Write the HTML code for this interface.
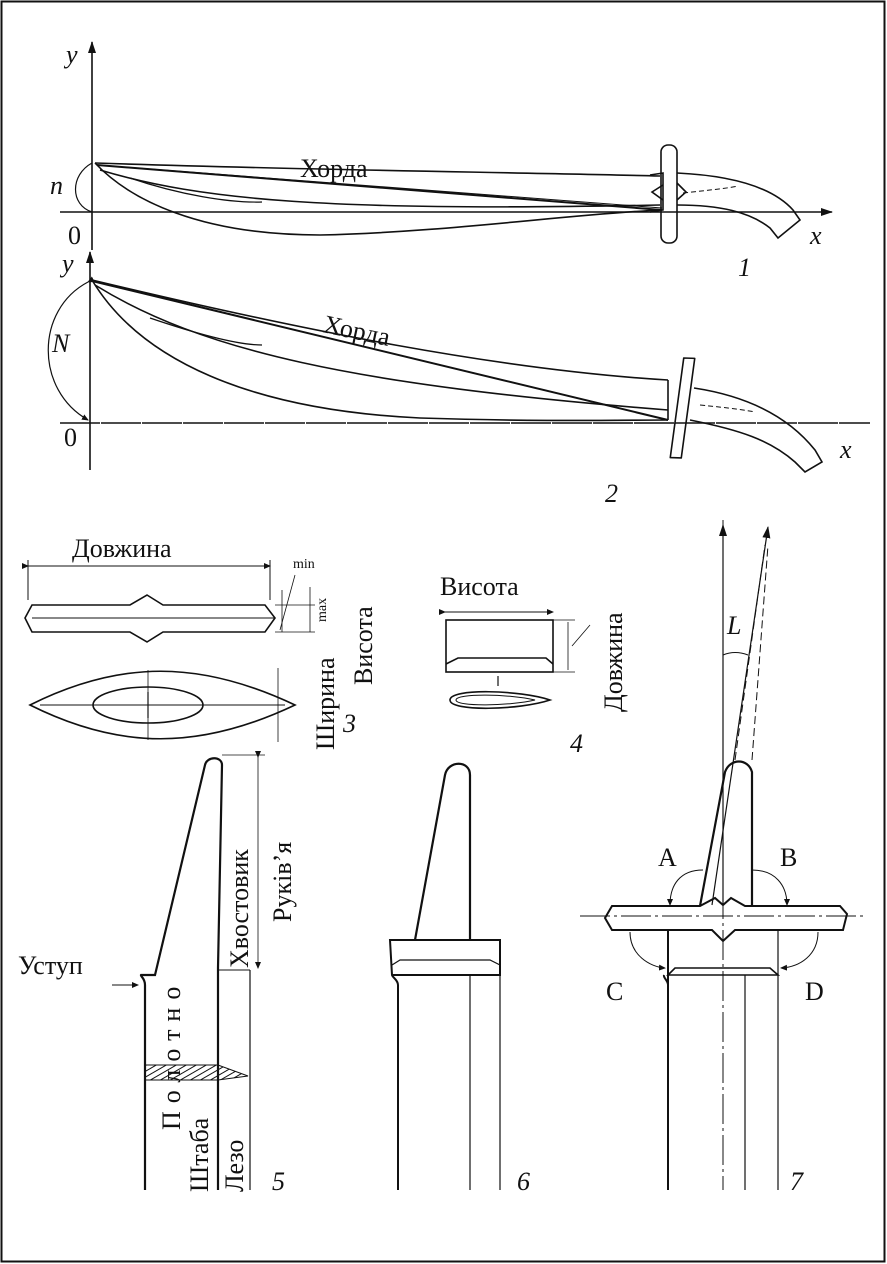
<!DOCTYPE html>
<html><head><meta charset="utf-8"><style>
html,body{margin:0;padding:0;background:#fff}
svg{display:block}
text{font-family:"Liberation Serif",serif;fill:#111}
</style></head><body>
<svg width="887" height="1264" viewBox="0 0 887 1264" xmlns="http://www.w3.org/2000/svg">
<defs>
<marker id="ar" markerWidth="12" markerHeight="8" refX="11" refY="4" orient="auto" markerUnits="userSpaceOnUse"><path d="M0,0 L12,4 L0,8 z" fill="#111"/></marker>
<marker id="sa" markerWidth="7" markerHeight="6" refX="6" refY="3" orient="auto" markerUnits="userSpaceOnUse"><path d="M0,0 L7,3 L0,6 z" fill="#111"/></marker>
<pattern id="h" width="5" height="5" patternUnits="userSpaceOnUse" patternTransform="rotate(60)"><line x1="0" y1="0" x2="0" y2="5" stroke="#111" stroke-width="2"/></pattern>
</defs>
<rect x="1.5" y="1.5" width="883" height="1260" fill="none" stroke="#111" stroke-width="2"/>
<g stroke="#111" fill="none" stroke-width="1.6">
<!-- Part 1 -->
<line x1="92" y1="250" x2="92" y2="42" marker-end="url(#ar)"/>
<line x1="60" y1="212" x2="832" y2="212" marker-end="url(#ar)"/>
<path d="M95,163 C300,170 500,172 660,176"/>
<path d="M95,163 C130,200 200,235 320,235 C450,232 560,215 660,210"/>
<path d="M100,170 C200,200 330,212 660,205"/>
<path d="M130,178 C180,195 230,203 262,202" stroke-width="1.2"/>
<line x1="97" y1="165" x2="662" y2="210" stroke-width="2"/>
<line x1="97" y1="165" x2="662" y2="208" stroke-width="1"/>
<path d="M92,163 C70,175 70,205 92,212" stroke-width="1.2"/>
<path d="M650,175 L663,173 L663,210 L650,212" />
<rect x="661" y="145" width="16" height="98" rx="7"/>
<path d="M663,185 L652,192 L663,200" /><path d="M677,183 L686,192 L677,200"/>
<path d="M677,173 C740,176 775,190 793,210 L800,220 L778,238 L770,228 C750,212 720,205 677,205"/>
<path d="M683,193 C710,190 730,188 738,186" stroke-dasharray="5,3" stroke-width="1"/>
<!-- Part 2 -->
<line x1="90" y1="470" x2="90" y2="252" marker-end="url(#ar)"/>
<line x1="60" y1="423" x2="870" y2="423" stroke-dasharray="40,1" />
<path d="M92,280 C300,330 500,370 668,380"/>
<path d="M92,280 C140,360 250,410 420,418 C550,422 620,420 668,420"/>
<path d="M95,285 C200,350 350,385 668,410"/>
<path d="M150,318 C200,335 240,345 262,345" stroke-width="1.2"/>
<line x1="92" y1="281" x2="668" y2="420" stroke-width="2"/>
<path d="M88,282 C35,310 35,390 88,420" stroke-width="1.2" marker-start="url(#sa)" marker-end="url(#sa)"/>
<path d="M668,380 L668,420" />
<path d="M682,358 L693,358 L683,458 L672,458 Z" stroke-linejoin="round" transform="rotate(2 683 408)"/>
<path d="M694,388 C760,398 795,425 815,450 L822,462 L805,472 L795,462 C770,440 740,430 690,420"/>
<path d="M700,405 C730,408 745,410 755,412" stroke-dasharray="5,3" stroke-width="1"/>
<!-- Part 3 -->
<line x1="28" y1="566" x2="270" y2="566" stroke-width="1" marker-start="url(#sa)" marker-end="url(#sa)"/>
<line x1="28" y1="560" x2="28" y2="600" stroke-width="1"/>
<line x1="270" y1="560" x2="270" y2="600" stroke-width="1"/>
<path d="M32,605 L130,605 L147,595 L163,605 L265,605 L275,618 L265,632 L163,632 L147,642 L130,632 L32,632 L25,618 Z"/>
<line x1="32" y1="618" x2="275" y2="618" stroke-width="1"/>
<line x1="275" y1="605" x2="315" y2="605" stroke-width="0.8"/><line x1="275" y1="632" x2="315" y2="632" stroke-width="0.8"/>
<line x1="310" y1="587" x2="310" y2="632" stroke-width="0.8"/>
<line x1="282" y1="590" x2="282" y2="632" stroke-width="0.8"/>
<line x1="280" y1="630" x2="295" y2="575" stroke-width="0.8"/>
<path d="M30,705 C120,660 200,660 295,705 C200,750 120,750 30,705 Z"/>
<ellipse cx="148" cy="705" rx="55" ry="18"/>
<line x1="40" y1="705" x2="285" y2="705" stroke-width="1"/>
<line x1="148" y1="692" x2="148" y2="718" stroke-width="1.2"/>
<line x1="148" y1="670" x2="148" y2="740" stroke-width="0.8"/>
<line x1="278" y1="668" x2="278" y2="742" stroke-width="0.8"/>
<!-- Part 4 -->
<line x1="445" y1="612" x2="553" y2="612" stroke-width="1" marker-start="url(#sa)" marker-end="url(#sa)"/>
<rect x="446" y="620" width="107" height="52"/>
<path d="M446,664 L458,658 L546,658 L553,664"/>
<line x1="553" y1="620" x2="575" y2="620" stroke-width="0.8"/><line x1="553" y1="672" x2="575" y2="672" stroke-width="0.8"/>
<line x1="568" y1="622" x2="568" y2="670" stroke-width="0.8"/>
<line x1="572" y1="646" x2="590" y2="625" stroke-width="0.8"/>
<path d="M450,700 C450,688 520,690 550,700 C520,710 450,712 450,700 Z"/>
<path d="M456,700 C456,693 510,694 535,700 C510,706 456,707 456,700 Z" stroke-width="1"/>
<line x1="498" y1="676" x2="498" y2="686" stroke-width="1.2"/>
<!-- Part 5 -->
<path d="M145,1190 L145,985 C145,978 140,976 141,975 L155,975 L205,765 C207,756 222,756 222,765 L218,968 L218,1190" stroke-width="2.2"/>
<line x1="218" y1="970" x2="250" y2="970" stroke-width="1"/>
<line x1="250" y1="970" x2="250" y2="1190" stroke-width="1.2"/>
<line x1="222" y1="755" x2="265" y2="755" stroke-width="0.8"/>
<line x1="258" y1="757" x2="258" y2="968" stroke-width="0.8" marker-start="url(#sa)" marker-end="url(#sa)"/>
<line x1="112" y1="985" x2="138" y2="985" stroke-width="1" marker-end="url(#sa)"/>
<path d="M145,1065 L218,1065 L248,1076 L218,1080 L145,1080 Z" fill="url(#h)" stroke-width="1"/>
<!-- Part 6 -->
<path d="M398,1190 L398,985 C398,980 393,978 392,975 L390,940 L500,940 L500,975 L392,975" stroke-width="2"/>
<path d="M392,965 L400,960 L490,960 L500,965" stroke-width="1.2"/>
<path d="M415,940 L445,775 C448,760 470,760 470,775 L470,940" stroke-width="2.2"/>
<line x1="470" y1="975" x2="470" y2="1190" stroke-width="1.2"/>
<line x1="500" y1="975" x2="500" y2="1190" stroke-width="1.2"/>
<!-- Part 7 -->
<path d="M612,906 L700,906 L715,898 L723,905 L731,898 L745,906 L840,906 L847,914 L843,930 L735,930 L723,941 L712,930 L612,930 L605,918 Z" stroke-width="2"/>
<line x1="580" y1="916" x2="865" y2="916" stroke-width="1" stroke-dasharray="30,4,3,4"/>
<path d="M700,906 L725,772 C730,758 748,758 752,772 L752,906" stroke-width="2.2"/>
<line x1="723" y1="520" x2="723" y2="1190" stroke-width="1" stroke-dasharray="30,4,3,4"/>
<line x1="723" y1="905" x2="723" y2="525" stroke-width="1.2" marker-end="url(#ar)"/>
<line x1="712" y1="905" x2="768" y2="527" stroke-width="1.2" marker-end="url(#ar)"/>
<line x1="735" y1="760" x2="765" y2="545" stroke-width="1" stroke-dasharray="8,4"/>
<line x1="752" y1="760" x2="768" y2="545" stroke-width="1" stroke-dasharray="8,4"/>
<path d="M723,655 Q735,650 748,655" stroke-width="1"/>
<path d="M668,930 L668,1190 M668,985 C668,980 663,978 664,975" stroke-width="2"/>
<path d="M668,975 L675,968 L770,968 L778,975 Z" stroke-width="1.6"/>
<line x1="778" y1="930" x2="778" y2="1190" stroke-width="1.2"/>
<line x1="745" y1="975" x2="745" y2="1190" stroke-width="1.2"/>
<path d="M703,870 C680,870 670,885 670,905" stroke-width="1" marker-end="url(#sa)"/>
<path d="M752,870 C775,870 787,885 787,905" stroke-width="1" marker-end="url(#sa)"/>
<path d="M630,932 C630,955 650,967 665,968" stroke-width="1" marker-end="url(#sa)"/>
<path d="M818,932 C818,955 800,967 781,968" stroke-width="1" marker-end="url(#sa)"/>
</g>
<g font-size="26">
<text x="66" y="63" font-style="italic">y</text>
<text x="50" y="194" font-style="italic">n</text>
<text x="68" y="244">0</text>
<text x="810" y="244" font-style="italic">x</text>
<text x="738" y="276" font-style="italic">1</text>
<text x="300" y="177">Хорда</text>
<text x="62" y="272" font-style="italic">y</text>
<text x="52" y="352" font-style="italic">N</text>
<text x="64" y="446">0</text>
<text x="840" y="458" font-style="italic">x</text>
<text x="605" y="502" font-style="italic">2</text>
<text x="322" y="332" transform="rotate(12 322 332)">Хорда</text>
<text x="72" y="557">Довжина</text>
<text x="293" y="568" font-size="14">min</text>
<text x="372" y="685" transform="rotate(-90 372 685)">Висота</text>
<text x="326" y="622" font-size="14" transform="rotate(-90 326 622)">max</text>
<text x="334" y="750" transform="rotate(-90 334 750)">Ширина</text>
<text x="343" y="732" font-style="italic">3</text>
<text x="440" y="595">Висота</text>
<text x="622" y="712" transform="rotate(-90 622 712)">Довжина</text>
<text x="570" y="752" font-style="italic">4</text>
<text x="248" y="968" transform="rotate(-90 248 968)">Хвостовик</text>
<text x="291" y="922" transform="rotate(-90 291 922)">Руків’я</text>
<text x="18" y="974">Уступ</text>
<text x="180" y="1130" transform="rotate(-90 180 1130)" letter-spacing="8">Полотно</text>
<text x="208" y="1192" transform="rotate(-90 208 1192)">Штаба</text>
<text x="243" y="1192" transform="rotate(-90 243 1192)">Лезо</text>
<text x="272" y="1190" font-style="italic">5</text>
<text x="517" y="1190" font-style="italic">6</text>
<text x="658" y="866">A</text>
<text x="780" y="866">B</text>
<text x="606" y="1000">C</text>
<text x="805" y="1000">D</text>
<text x="727" y="634" font-style="italic">L</text>
<text x="790" y="1190" font-style="italic">7</text>
</g>
</svg>
</body></html>
